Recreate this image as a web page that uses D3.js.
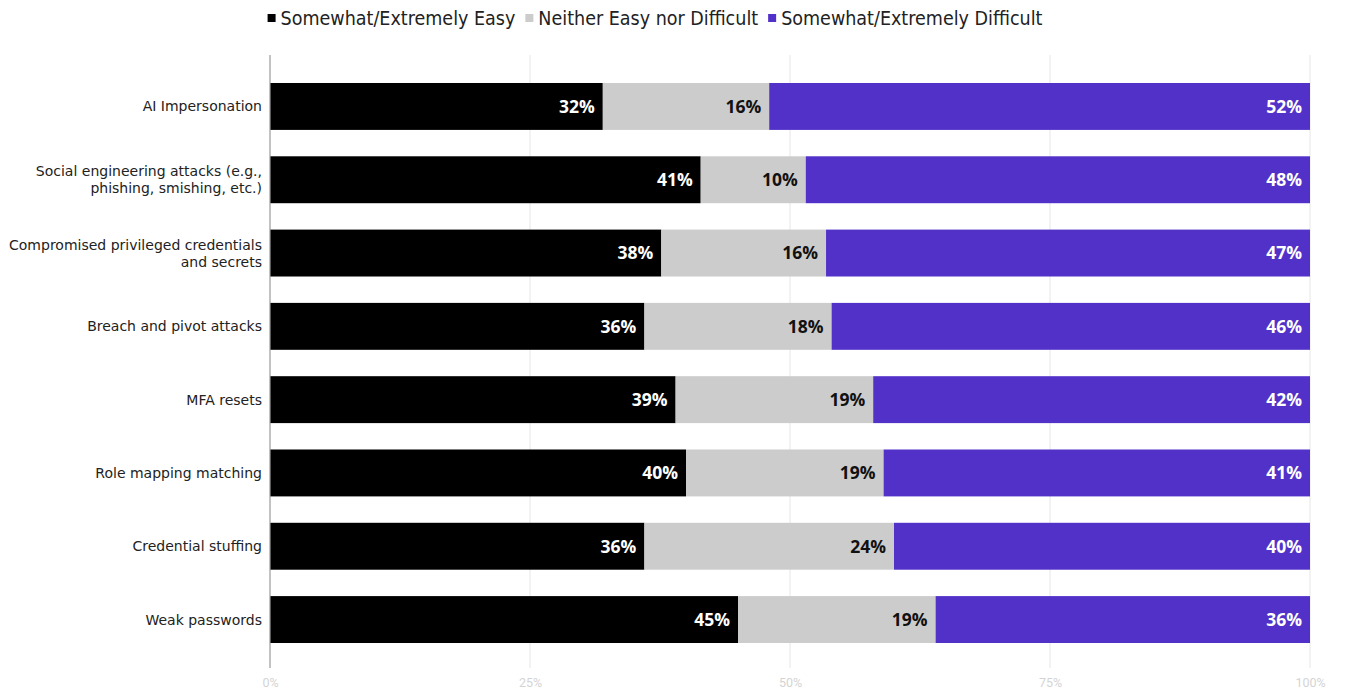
<!DOCTYPE html>
<html>
<head>
<meta charset="utf-8">
<script src="https://cdn.jsdelivr.net/npm/d3@7"></script>
<style>
  html, body { margin: 0; padding: 0; background: #ffffff; }
  svg { display: block; }
</style>
</head>
<body>
<svg id="chart" width="1347" height="696"></svg>
<script>
// Survey categories, top to bottom
const categories = [
  "AI Impersonation",
  "Social engineering attacks (e.g.,\nphishing, smishing, etc.)",
  "Compromised privileged credentials\nand secrets",
  "Breach and pivot attacks",
  "MFA resets",
  "Role mapping matching",
  "Credential stuffing",
  "Weak passwords"
];

// Share of respondents per answer (percent)
const easyValues      = [32, 41, 38, 36, 39, 40, 36, 45];
const neitherValues   = [16, 10, 16, 18, 19, 19, 24, 19];
const difficultValues = [52, 48, 47, 46, 42, 41, 40, 36];

const seriesNames = [
  "Somewhat/Extremely Easy",
  "Neither Easy nor Difficult",
  "Somewhat/Extremely Difficult"
];
const seriesColors = ["#000000", "#cccccc", "#5231c9"];
const labelColors  = ["#ffffff", "#111111", "#ffffff"];

const tickValues = [0, 0.25, 0.5, 0.75, 1];

// Rows for the stack layout
const keys = ["easy", "neither", "difficult"];
const rows = categories.map((c, i) => ({
  category: c,
  easy: easyValues[i],
  neither: neitherValues[i],
  difficult: difficultValues[i]
}));

const svg = d3.select("#chart");
const margin = { left: 270, right: 37, top: 55, bottom: 28 };
const width = 1347, height = 696;

const x = d3.scaleLinear().domain([0, 1]).range([margin.left, width - margin.right]);
const y = d3.scaleBand()
  .domain(categories)
  .range([69.8, 656.2])
  .paddingInner(0.36)
  .paddingOuter(0.18);

// 100% stacked layout
const stacked = d3.stack().keys(keys).offset(d3.stackOffsetExpand)(rows);

// Gridlines
svg.append("g")
  .selectAll("line")
  .data(tickValues.slice(1))
  .join("line")
  .attr("x1", d => x(d)).attr("x2", d => x(d))
  .attr("y1", margin.top).attr("y2", 668)
  .attr("stroke", "#e6e6e6")
  .attr("stroke-width", 1);

// Bars
const layers = svg.append("g")
  .selectAll("g")
  .data(stacked)
  .join("g")
  .attr("fill", (d, i) => seriesColors[i]);

layers.selectAll("rect")
  .data(d => d.map(p => Object.assign(p, { key: d.key })))
  .join("rect")
  .attr("x", d => x(d[0]))
  .attr("width", d => x(d[1]) - x(d[0]))
  .attr("y", d => y(d.data.category))
  .attr("height", y.bandwidth());

// Value labels at the right end of each segment
stacked.forEach((layer, li) => {
  svg.append("g")
    .selectAll("text")
    .data(layer)
    .join("text")
    .attr("x", d => x(d[1]) - 8)
    .attr("y", d => y(d.data.category) + y.bandwidth() / 2)
    .attr("dy", "0.36em")
    .attr("text-anchor", "end")
    .attr("fill", labelColors[li])
    .style("font-family", "'Open Sans', 'Noto Sans', sans-serif")
    .style("font-weight", "700")
    .style("font-size", "17.5px")
    .text(d => d.data[layer.key] + "%");
});

// Zero axis line
svg.append("line")
  .attr("x1", x(0)).attr("x2", x(0))
  .attr("y1", margin.top).attr("y2", 668)
  .attr("stroke", "#9a9a9a")
  .attr("stroke-width", 1.2);

// Category labels
const catLabels = svg.append("g")
  .selectAll("text")
  .data(categories)
  .join("text")
  .attr("text-anchor", "end")
  .attr("fill", "#222222")
  .style("font-family", "'DejaVu Sans', sans-serif")
  .style("font-size", "14px")
  .attr("transform", d => `translate(262,${y(d) + y.bandwidth() / 2})`);

catLabels.each(function (d) {
  const lines = d.split("\n");
  const lh = 17;
  const start = -((lines.length - 1) * lh) / 2;
  d3.select(this).selectAll("tspan")
    .data(lines)
    .join("tspan")
    .attr("x", 0)
    .attr("y", (l, i) => start + i * lh)
    .attr("dy", "0.36em")
    .text(l => l);
});

// Bottom axis tick labels
const xAxis = d3.axisBottom(x)
  .tickValues(tickValues)
  .tickFormat(d3.format(".0%"))
  .tickSize(0)
  .tickPadding(0);

const axisG = svg.append("g")
  .attr("transform", "translate(0,678)")
  .call(xAxis);
axisG.select(".domain").remove();
axisG.selectAll("text")
  .attr("fill", "#d4d4d4")
  .style("font-family", "Roboto, sans-serif")
  .style("font-size", "12.5px");

// Legend
const legend = svg.append("g").attr("transform", "translate(0,18)");
const legendFont = "'DejaVu Sans Condensed', 'DejaVu Sans', sans-serif";
const items = [];
seriesNames.forEach((name, i) => {
  const g = legend.append("g");
  g.append("rect")
    .attr("x", 0).attr("y", -4)
    .attr("width", 8).attr("height", 8)
    .attr("fill", seriesColors[i]);
  const t = g.append("text")
    .attr("x", 13)
    .attr("dy", "0.36em")
    .attr("fill", "#222222")
    .style("font-family", legendFont)
    .style("font-size", "19.5px")
    .text(name);
  const w = 13 + t.node().getComputedTextLength();
  items.push({ g, w });
});
const gap = 10;
const total = d3.sum(items, d => d.w) + gap * (items.length - 1);
let cursor = 655 - total / 2;
items.forEach(it => {
  it.g.attr("transform", `translate(${cursor},0)`);
  cursor += it.w + gap;
});
</script>
</body>
</html>
